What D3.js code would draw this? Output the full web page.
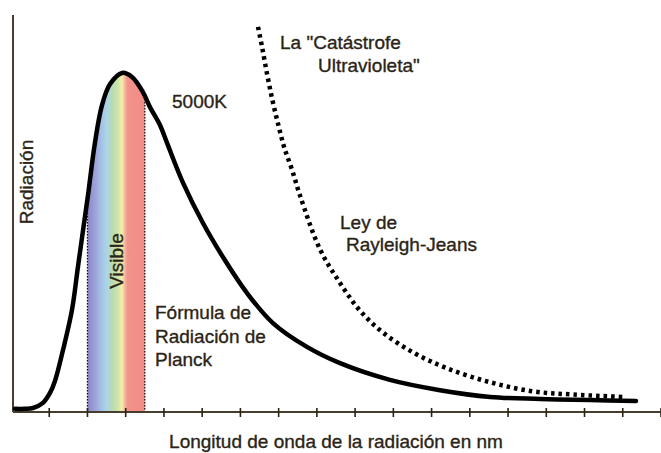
<!DOCTYPE html>
<html>
<head>
  <meta charset="utf-8">
  <title>Radiación de cuerpo negro</title>
  <script src="https://d3js.org/d3.v7.min.js"></script>
  <style>
    body { margin: 0; background: #fff; }
    text {
      font-family: "Liberation Sans", Arial, sans-serif;
      font-size: 19px;
      fill: #2b2416;
      stroke: #2b2416;
      stroke-width: 0.35px;
    }
  </style>
</head>
<body>
  <div id="chart"></div>
  <script>
    // Planck curve at 5000K, wavelength in nm
    const planckNm = [21, 73, 115, 167, 204, 230, 272, 319, 350, 377, 403, 439, 476, 518, 581,
                      633, 690, 727, 779, 816, 900, 1004, 1109, 1234, 1370, 1548, 1721, 1982,
                      2244, 2506, 2767, 3029, 3269];
    const planckVal = [0.8, 0.8, 1.0, 2.3, 4.8, 7.8, 15.6, 25.7, 36.5, 45.8, 54.7, 67.8, 77.3, 82.6, 85.4,
                       84.4, 80.6, 76.8, 72.3, 67.8, 57.7, 47.6, 39.0, 30.0, 22.4, 16.4, 12.3, 8.1,
                       5.5, 3.8, 3.3, 3.0, 2.8];

    // Rayleigh-Jeans curve
    const rjNm = [1292, 1313, 1340, 1370, 1400, 1430, 1470, 1512, 1616, 1721, 1826, 1946, 2103,
                  2281, 2506, 2730, 2940, 3201];
    const rjVal = [97, 92, 85, 78, 72, 66.5, 61, 54.5, 41, 32.5, 25.5, 20, 15,
                   11, 7.5, 5.2, 4.4, 3.8];

    // visible band, nm
    const visible = [400, 700];
    const tickNm = d3.range(200, 3401, 200);

    const width = 661, height = 453;

    const x = d3.scaleLinear().domain([0, 3400]).range([11, 661]);
    const y = d3.scaleLinear().domain([0, 100]).range([412, 15]);

    const svg = d3.select("#chart").append("svg")
      .attr("width", width)
      .attr("height", height);

    const planck = planckNm.map((d, i) => [d, planckVal[i]]);
    const rj = rjNm.map((d, i) => [d, rjVal[i]]);

    const line = d3.line()
      .x(d => x(d[0]))
      .y(d => y(d[1]))
      .curve(d3.curveCatmullRom);

    const area = d3.area()
      .x(d => x(d[0]))
      .y0(y(0))
      .y1(d => y(d[1]))
      .curve(d3.curveCatmullRom);

    // spectrum gradient
    const defs = svg.append("defs");
    const grad = defs.append("linearGradient")
      .attr("id", "spectrum")
      .attr("gradientUnits", "userSpaceOnUse")
      .attr("x1", x(visible[0])).attr("x2", x(visible[1]))
      .attr("y1", 0).attr("y2", 0);
    [[0, "#8c87c6"], [0.12, "#9a9fd8"], [0.25, "#a6c3e6"], [0.33, "#a9d5e8"],
     [0.43, "#b7dbb4"], [0.53, "#cfe3a8"], [0.6, "#f6f0a8"], [0.66, "#f4b09c"],
     [0.7, "#f2928a"], [1, "#f28d86"]].forEach(s => {
      grad.append("stop").attr("offset", s[0]).attr("stop-color", s[1]);
    });

    defs.append("clipPath").attr("id", "under")
      .append("path").attr("d", area(planck));

    const band = svg.append("g").attr("clip-path", "url(#under)");
    band.append("rect")
      .attr("x", x(visible[0]))
      .attr("width", x(visible[1]) - x(visible[0]))
      .attr("y", 0)
      .attr("height", y(0))
      .attr("fill", "url(#spectrum)");
    band.selectAll("line.edge")
      .data(visible)
      .join("line")
      .attr("class", "edge")
      .attr("x1", d => x(d)).attr("x2", d => x(d))
      .attr("y1", 0).attr("y2", y(0))
      .attr("stroke", "#111")
      .attr("stroke-width", 1.3)
      .attr("stroke-dasharray", "1.5,1.5");

    // axes
    svg.append("line")
      .attr("x1", 13).attr("x2", 13)
      .attr("y1", 15).attr("y2", y(0))
      .attr("stroke", "#463d2e").attr("stroke-width", 2);
    svg.append("line")
      .attr("x1", 13).attr("x2", 661)
      .attr("y1", y(0)).attr("y2", y(0))
      .attr("stroke", "#463d2e").attr("stroke-width", 2);
    svg.selectAll("line.tick")
      .data(tickNm)
      .join("line")
      .attr("class", "tick")
      .attr("x1", d => x(d)).attr("x2", d => x(d))
      .attr("y1", y(0) - 4).attr("y2", y(0) + 5)
      .attr("stroke", "#2b2416").attr("stroke-width", 1.6);

    // curves
    svg.append("path")
      .attr("d", line(rj))
      .attr("fill", "none")
      .attr("stroke", "#000")
      .attr("stroke-width", 4.5)
      .attr("stroke-dasharray", "3.5,4");

    svg.append("path")
      .attr("d", line(planck))
      .attr("fill", "none")
      .attr("stroke", "#000")
      .attr("stroke-width", 4.5)
      .attr("stroke-linecap", "round")
      .attr("stroke-linejoin", "round");

    // labels
    const labels = [
      {t: "5000K", x: 172, y: 108},
      {t: "La \"Catástrofe", x: 280, y: 49},
      {t: "Ultravioleta\"", x: 318, y: 72},
      {t: "Ley de", x: 340, y: 229},
      {t: "Rayleigh-Jeans", x: 346, y: 251},
      {t: "Fórmula de", x: 155, y: 319},
      {t: "Radiación de", x: 155, y: 343},
      {t: "Planck", x: 155, y: 366}
    ];
    svg.selectAll("text.lbl")
      .data(labels)
      .join("text")
      .attr("class", "lbl")
      .attr("x", d => d.x).attr("y", d => d.y)
      .text(d => d.t);

    svg.append("text")
      .attr("x", 336).attr("y", 448)
      .attr("text-anchor", "middle")
      .text("Longitud de onda de la radiación en nm");

    svg.append("text")
      .attr("transform", "translate(33,182) rotate(-90)")
      .attr("text-anchor", "middle")
      .text("Radiación");

    svg.append("text")
      .attr("transform", "translate(123,261) rotate(-90)")
      .attr("text-anchor", "middle")
      .text("Visible");
  </script>
</body>
</html>
